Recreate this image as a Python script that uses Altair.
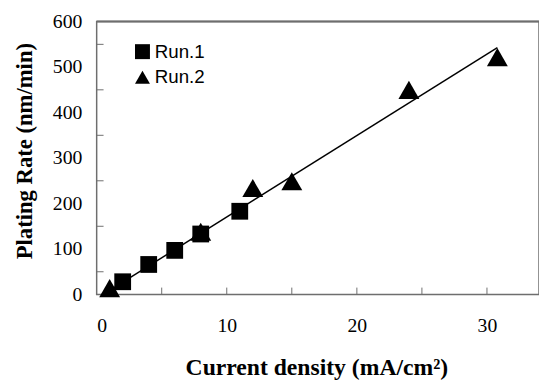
import altair as alt
import pandas as pd

run1_x = [2, 4, 6, 8, 11]
run1_y = [28, 66, 97, 133, 183]
run2_x = [1, 8, 12, 15, 24, 30.8]
run2_y = [14, 138, 234, 249, 450, 522]
fit_x = [1, 30.8]
fit_y = [9, 543]

x_label_vals = [0, 10, 20, 30]
x_tick_vals = [5, 10, 15, 20, 25, 30]
y_label_vals = [0, 100, 200, 300, 400, 500, 600]
y_tick_vals = [50, 150, 250, 350, 450, 550]
y_top = [600]
x_span = [0, 34]

r1 = pd.DataFrame({"x": run1_x, "y": run1_y, "run": ["Run.1"] * len(run1_x)})
r2 = pd.DataFrame({"x": run2_x, "y": run2_y, "run": ["Run.2"] * len(run2_x)})
fit = pd.DataFrame({"x": fit_x, "y": fit_y})
xt = pd.DataFrame({"t": x_tick_vals})
yt = pd.DataFrame({"t": y_tick_vals})
topdf = pd.DataFrame({"x": [x_span[0]], "x2": [x_span[1]], "t": y_top})

xs = alt.Scale(domain=x_span, nice=False, zero=False)
ys = alt.Scale(domain=[0, 600], nice=False)

SERIF = "Liberation Serif"
GRAY = "#6e6e6e"

x_axis = alt.Axis(values=x_label_vals, ticks=False, domain=False, grid=False,
                  labelFont=SERIF, labelFontSize=20, labelColor="black",
                  labelPadding=22, title="Current density (mA/cm²)",
                  titleFont=SERIF, titleFontSize=24, titleFontWeight="bold",
                  titleColor="black", titleX=223, titleY=81,
                  titleBaseline="alphabetic", titleAnchor="middle")
y_axis = alt.Axis(values=y_label_vals, ticks=False, domain=False, grid=False,
                  labelFont=SERIF, labelFontSize=20, labelColor="black",
                  labelPadding=15, title="Plating Rate (nm/min)",
                  titleFont=SERIF, titleFontSize=23, titleFontWeight="bold",
                  titleColor="black", titleX=-66, titleY=131,
                  titleBaseline="alphabetic", titleAlign="center", titleAngle=-90)

shape_scale = alt.Scale(domain=["Run.1", "Run.2"], range=["square", "triangle-up"])
legend = alt.Legend(title=None, orient="none", legendX=37, legendY=21,
                    labelFont="Liberation Sans", labelFontSize=19,
                    labelColor="black", symbolSize=230,
                    symbolFillColor="black", symbolStrokeWidth=0,
                    labelOffset=3, rowPadding=6)


def pts(df, size):
    return alt.Chart(df).mark_point(filled=True, opacity=1, color="black",
                                    strokeWidth=0, size=size).encode(
        x=alt.X("x:Q", scale=xs, axis=x_axis),
        y=alt.Y("y:Q", scale=ys, axis=y_axis),
        shape=alt.Shape("run:N", scale=shape_scale, legend=legend),
    )


line = alt.Chart(fit).mark_line(color="black", strokeWidth=1.5).encode(
    x=alt.X("x:Q", scale=xs, axis=x_axis),
    y=alt.Y("y:Q", scale=ys, axis=y_axis),
)

xticks = alt.Chart(xt).mark_rule(color=GRAY, strokeWidth=1).encode(
    x=alt.X("t:Q", scale=xs, axis=x_axis),
    y=alt.value(277), y2=alt.value(270),
)
yticks = alt.Chart(yt).mark_rule(color=GRAY, strokeWidth=1).encode(
    y=alt.Y("t:Q", scale=ys, axis=y_axis),
    x=alt.value(0), x2=alt.value(7),
)
topline = alt.Chart(topdf).mark_rule(color=GRAY, strokeWidth=2).encode(
    x=alt.X("x:Q", scale=xs, axis=x_axis),
    x2="x2:Q",
    y=alt.Y("t:Q", scale=ys, axis=y_axis),
)

chart = alt.layer(xticks, yticks, pts(r2, 450), pts(r1, 290), line, topline).properties(
    width=449, height=277,
    autosize=alt.AutoSizeParams(type="none"),
    padding={"left": 90, "top": 11, "right": 0, "bottom": 85},
    background="white",
).configure_view(stroke=GRAY, strokeWidth=1.5)

chart.save("out.html", embed_options={"renderer": "svg", "actions": False})
